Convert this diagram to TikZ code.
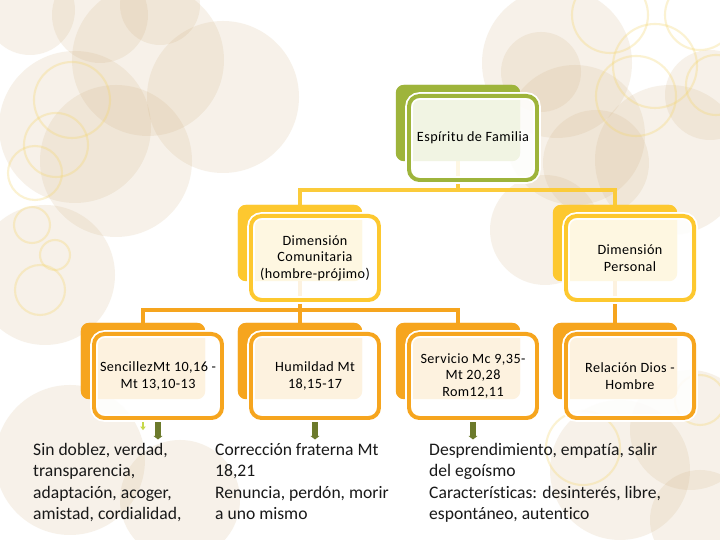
\documentclass[tikz,border=0pt]{standalone}
\usepackage{fontspec}
\setmainfont{Carlito}[Ligatures=NoCommon]
\usepackage{tikz}
\usetikzlibrary{
    arrows.meta,
    calc,
    positioning
}

\definecolor{famgreen}{HTML}{9EB43B}
\definecolor{dimyellow}{HTML}{FDC82F}
\definecolor{valorange}{HTML}{F6A51E}
\definecolor{linkyellow}{HTML}{FBCB3A}
\definecolor{arrowolive}{HTML}{6C7A2C}
\definecolor{arrowlime}{HTML}{C6D84A}
\definecolor{bubbletan}{HTML}{CFAE7C}
\definecolor{ringgold}{HTML}{F5D66A}

\tikzset{
    backbox/.style={fill=#1, rounded corners=7pt, minimum width=3.72cm, minimum height=2.28cm, inner sep=0pt},
    frontbox/.style={draw=#1, line width=3.4pt, fill=white, fill opacity=0.86, text opacity=1,
        rounded corners=9pt, minimum width=3.84cm, minimum height=2.52cm, align=center,
        font=\fontsize{12.1}{14}\selectfont\addfontfeatures{LetterSpace=3},
        preaction={draw=white, line width=6.5pt}},
    yellowlink/.style={linkyellow, line width=3.5pt},
    orangelink/.style={valorange, line width=3.5pt},
    olivearrow/.style={arrowolive, line width=4.5pt, -{Triangle[length=3pt, width=7.5pt]}, shorten <=2pt, shorten >=3pt},
    limearrow/.style={arrowlime, line width=1.2pt, -{Triangle[length=3pt, width=4.5pt]}, shorten <=2pt, shorten >=11pt},
    bodytext/.style={align=left, inner sep=0pt, anchor=north west, font=\fontsize{15}{18.3}\selectfont, text=black!90},
    bubble/.style={fill=bubbletan, fill opacity=0.16},
    ring/.style={draw=ringgold, line width=1.8pt, draw opacity=0.3}
}

\begin{document}
\begin{tikzpicture}[x=0.03cm, y=0.03cm]
        % Page
        \fill[white] (0,0) rectangle (720,540);
        \useasboundingbox (0,0) rectangle (720,540);

        % Background bubbles
        \foreach \cx/\cy/\r in {30/530/45, 100/525/48, 160/535/40, 148/480/76, 223/443/76,
                75/413/76, 116/379/76, 45/265/70, 70/80/75, 180/40/60,
                557/477/75, 541/468/40, 575/405/70, 596/377/53, 670/380/75,
                710/445/45, 545/310/55, 620/70/70, 690/110/60, 700/20/50}
            \fill[bubble] (\cx,\cy) circle (\r);
        \foreach \cx/\cy/\r in {72/440/38, 56/395/32, 35/367/27, 32/315/18, 55/285/15, 40/250/25,
                610/525/38, 655/474/42, 636/444/40, 700/525/35, 716/455/30, 583/92/37, 700/140/25}
            \draw[ring] (\cx,\cy) circle (\r);

        % Back boxes
        \node[backbox=famgreen] (topb) at (458,417) {};
        \node[backbox=dimyellow] (dcomb) at (300,297) {};
        \node[backbox=dimyellow] (dperb) at (615,297) {};
        \node[backbox=valorange] (sencb) at (143,179) {};
        \node[backbox=valorange] (humb) at (300,179) {};
        \node[backbox=valorange] (servb) at (458,179) {};
        \node[backbox=valorange] (relb) at (615,179) {};

        % Connectors (under the front boxes)
        \coordinate (famfork) at ($(topb)+(0,-67)$);
        \coordinate (comfork) at ($(dcomb)+(0,-67)$);
        \draw[yellowlink] (topb) -- (famfork);
        \draw[yellowlink] (dcomb) |- (famfork) -| (dperb);
        \draw[orangelink] (dcomb) -- (humb);
        \draw[orangelink] (sencb) |- (comfork) -| (servb);
        \draw[orangelink] (dperb) -- (relb);

        % Redraw back boxes over the connectors
        \foreach \b/\c in {topb/famgreen, dcomb/dimyellow, dperb/dimyellow, sencb/valorange,
                humb/valorange, servb/valorange, relb/valorange}
            \fill[\c, rounded corners=7pt] (\b.south west) rectangle (\b.north east);

        % Front boxes
        \node[frontbox=famgreen] (top) at ($(topb)+(15,-15)$) {Espíritu de Familia};
        \node[frontbox=dimyellow] (dcom) at ($(dcomb)+(15,-15)$) {Dimensión\\Comunitaria\\(hombre-prójimo)};
        \node[frontbox=dimyellow] (dper) at ($(dperb)+(15,-15)$) {Dimensión\\Personal};
        \node[frontbox=valorange] (senc) at ($(sencb)+(15,-15)$) {SencillezMt 10,16 -\\Mt 13,10-13};
        \node[frontbox=valorange] (hum) at ($(humb)+(15,-15)$) {Humildad Mt\\18,15-17};
        \node[frontbox=valorange] (serv) at ($(servb)+(15,-15)$) {Servicio Mc 9,35-\\Mt 20,28\\Rom12,11};
        \node[frontbox=valorange] (rel) at ($(relb)+(15,-15)$) {Relación Dios -\\Hombre};

        % Notes under the values
        \node[bodytext] (sencnote) at (33,97) {Sin doblez, verdad,\\transparencia,\\adaptación, acoger,\\amistad, cordialidad,};
        \node[bodytext] (humnote) at (215,97) {Corrección fraterna Mt\\18,21\\Renuncia, perdón, morir\\a uno mismo};
        \node[bodytext] (servnote) at (429,97) {Desprendimiento, empatía, salir\\del egoísmo\\Características: desinterés, libre,\\espontáneo, autentico};

        % Arrows
        \draw[limearrow] (senc.south -| sencb) -- (sencb |- sencnote.north);
        \draw[olivearrow] (senc.south) -- (senc.south |- sencnote.north);
        \draw[olivearrow] (hum.south) -- (hum.south |- humnote.north);
        \draw[olivearrow] (serv.south) -- (serv.south |- servnote.north);
    \end{tikzpicture}
\end{document}
